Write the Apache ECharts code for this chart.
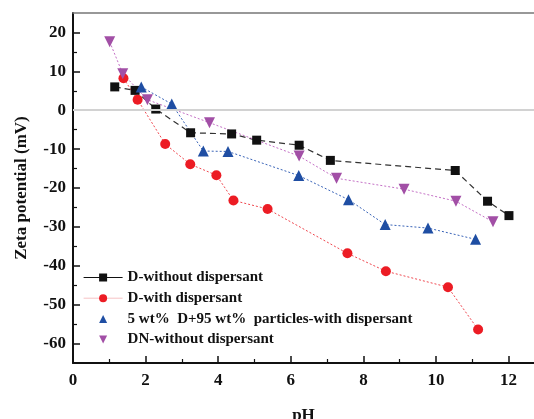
<!DOCTYPE html>
<html>
<head>
<meta charset="utf-8">
<script src="https://cdn.jsdelivr.net/npm/echarts@6/dist/echarts.min.js"></script>
<style>
  html, body { margin: 0; padding: 0; background: #fff; }
  #chart { width: 534px; height: 419px; }
</style>
</head>
<body>
<div id="chart"></div>
<script>
// Zeta potential vs pH for four suspensions
const seriesNames = [
  'D-without dispersant',
  'D-with dispersant',
  '5 wt%  D+95 wt%  particles-with dispersant',
  'DN-without dispersant'
];

const phD = [1.15, 1.71, 2.28, 3.24, 4.37, 5.06, 6.23, 7.09, 10.53, 11.42, 12.01];
const zetaD = [6.0, 5.1, 0.3, -5.8, -6.1, -7.7, -9.0, -12.9, -15.5, -23.4, -27.1];

const phDDisp = [1.39, 1.78, 2.54, 3.23, 3.95, 4.42, 5.36, 7.56, 8.62, 10.33, 11.16];
const zetaDDisp = [8.2, 2.7, -8.7, -13.9, -16.7, -23.2, -25.4, -36.8, -41.4, -45.5, -56.4];

const phMix = [1.88, 2.72, 3.59, 4.27, 6.22, 7.59, 8.60, 9.78, 11.09];
const zetaMix = [6.0, 1.6, -10.5, -10.6, -16.8, -23.0, -29.4, -30.3, -33.2];

const phDN = [1.01, 1.37, 2.05, 3.76, 6.23, 7.26, 9.12, 10.55, 11.57];
const zetaDN = [17.6, 9.4, 2.7, -3.2, -11.8, -17.5, -20.3, -23.4, -28.7];

const xTickLabels = [0, 2, 4, 6, 8, 10, 12];
const xMinorTicks = [1, 3, 5, 7, 9, 11];
const yTickLabels = [-60, -50, -40, -30, -20, -10, 0, 10, 20];
const yMinorTicks = [-55, -45, -35, -25, -15, -5, 5, 15];

const zip = (xs, ys) => xs.map((x, i) => [x, ys[i]]);

const serif = 'Liberation Serif';
const X_MIN = 0, X_MAX = 12.7, Y_MIN = -65, Y_MAX = 25;

const chart = echarts.init(document.getElementById('chart'), null, { renderer: 'canvas' });

const hidden = { show: false };

chart.setOption({
  animation: false,
  backgroundColor: '#ffffff',
  grid: { left: 73, right: 0, top: 13, bottom: 56, containLabel: false, outerBoundsMode: 'none' },
  legend: {
    orient: 'vertical',
    left: 78,
    top: 265,
    itemWidth: 39,
    itemHeight: 10,
    itemGap: 5.7,
    textStyle: { fontFamily: serif, fontWeight: 'bold', fontSize: 15, color: '#111' },
    data: [
      { name: seriesNames[0], lineStyle: { type: 'solid', color: '#111', width: 1.2 } },
      { name: seriesNames[1], lineStyle: { type: 'solid', color: '#f6c2c4', width: 1 } },
      { name: seriesNames[2], lineStyle: { width: 0, opacity: 0 } },
      { name: seriesNames[3], lineStyle: { width: 0, opacity: 0 } }
    ]
  },
  xAxis: [
    {
      type: 'value', position: 'bottom', min: X_MIN, max: X_MAX,
      name: 'pH', nameLocation: 'middle', nameGap: 44,
      nameTextStyle: { fontFamily: serif, fontWeight: 'bold', fontSize: 17, color: '#111' },
      axisLine: { show: true, onZero: false, lineStyle: { color: '#111', width: 2 } },
      axisTick: { show: true, inside: true, length: 7, customValues: xTickLabels, lineStyle: { color: '#111', width: 1.5 } },
      axisLabel: { show: true, customValues: xTickLabels, margin: 9, fontFamily: serif, fontWeight: 'bold', fontSize: 17, color: '#111' },
      splitLine: hidden
    },
    {
      type: 'value', position: 'top', min: X_MIN, max: X_MAX,
      axisLine: { show: true, onZero: false, lineStyle: { color: '#777', width: 1.5 } },
      axisTick: hidden, axisLabel: hidden, splitLine: hidden
    },
    {
      type: 'value', position: 'bottom', min: X_MIN, max: X_MAX,
      axisLine: { show: false, onZero: false },
      axisTick: { show: true, inside: true, length: 4, customValues: xMinorTicks, lineStyle: { color: '#111', width: 1.2 } },
      axisLabel: hidden, splitLine: hidden
    }
  ],
  yAxis: [
    {
      type: 'value', position: 'left', min: Y_MIN, max: Y_MAX,
      name: 'Zeta potential (mV)', nameLocation: 'middle', nameGap: 43, nameRotate: 90,
      nameTextStyle: { fontFamily: serif, fontWeight: 'bold', fontSize: 17, color: '#111' },
      axisLine: { show: true, onZero: false, lineStyle: { color: '#111', width: 2 } },
      axisTick: { show: true, inside: true, length: 7, customValues: yTickLabels, lineStyle: { color: '#111', width: 1.5 } },
      axisLabel: { show: true, customValues: yTickLabels, margin: 7, fontFamily: serif, fontWeight: 'bold', fontSize: 17, color: '#111' },
      splitLine: hidden
    },
    {
      type: 'value', position: 'left', min: Y_MIN, max: Y_MAX,
      axisLine: { show: false, onZero: false },
      axisTick: { show: true, inside: true, length: 4, customValues: yMinorTicks, lineStyle: { color: '#111', width: 1.2 } },
      axisLabel: hidden, splitLine: hidden
    }
  ],
  series: [
    {
      // zero reference line, kept beneath the data
      type: 'line', data: [], z: 1, silent: true,
      markLine: {
        silent: true, symbol: 'none', label: hidden,
        lineStyle: { type: 'solid', color: '#d2d2d2', width: 2 },
        data: [{ yAxis: 0 }]
      }
    },
    {
      name: seriesNames[0], type: 'line', data: zip(phD, zetaD),
      symbol: 'rect', symbolSize: 9,
      itemStyle: { color: '#111' },
      lineStyle: { color: '#333', width: 1.2, type: [6, 4] }
    },
    {
      name: seriesNames[1], type: 'line', data: zip(phDDisp, zetaDDisp),
      symbol: 'circle', symbolSize: 10,
      itemStyle: { color: '#ec1c24' },
      lineStyle: { color: '#f04850', width: 1, type: [2, 2] }
    },
    {
      name: seriesNames[2], type: 'line', data: zip(phMix, zetaMix),
      symbol: 'triangle', symbolSize: 11,
      itemStyle: { color: '#1f4ea3' },
      lineStyle: { color: '#3a64b8', width: 1, type: [2, 2] }
    },
    {
      name: seriesNames[3], type: 'line', data: zip(phDN, zetaDN),
      symbol: 'triangle', symbolRotate: 180, symbolSize: 11,
      itemStyle: { color: '#a24fa6' },
      lineStyle: { color: '#c470c6', width: 1, type: [2, 2] }
    }
  ]
});
</script>
</body>
</html>
